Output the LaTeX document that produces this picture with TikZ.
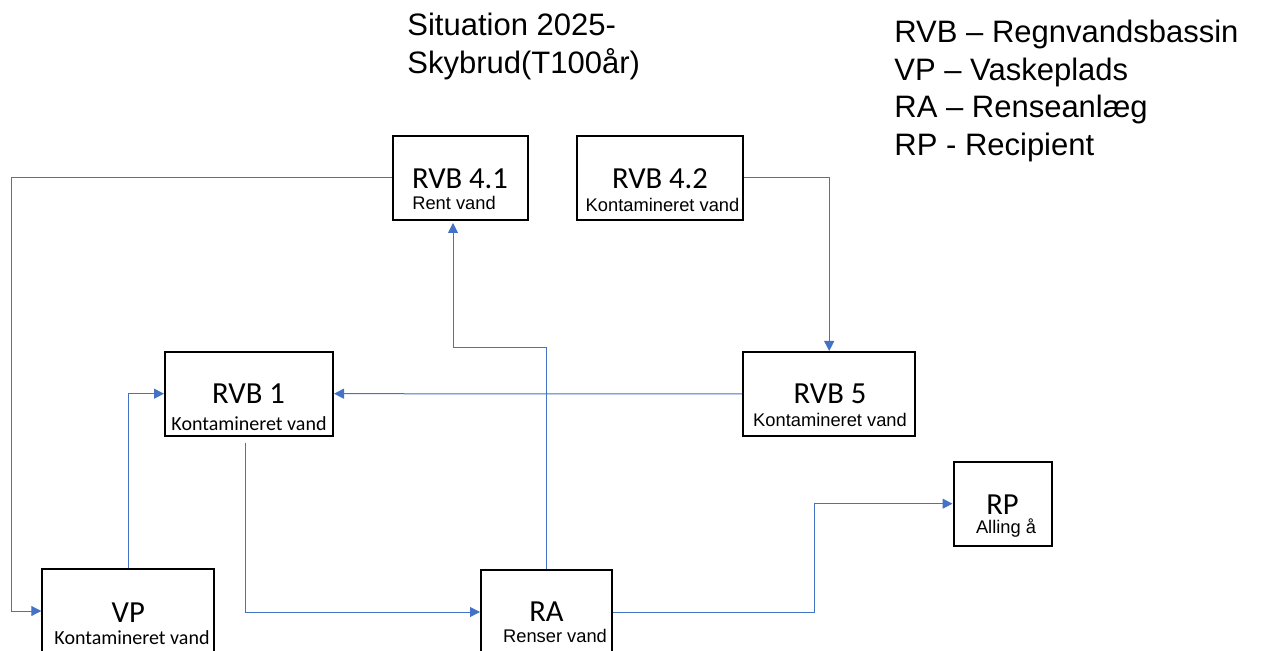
\documentclass[tikz,border=0pt]{standalone}
\usepackage{fontspec}
\setmainfont{Liberation Sans}
\newfontfamily\calibri{Carlito}
\usetikzlibrary{arrows.meta}
\definecolor{flowblue}{RGB}{68,114,196}
\begin{document}
\begin{tikzpicture}[
        % pixel grid, y pointing down
        x={(0.5pt,0pt)},
        y={(0pt,-0.5pt)},
        box/.style={draw=black, line width=1pt, inner sep=0pt},
        title/.style={font=\calibri\fontsize{15.3}{18}\selectfont, anchor=base, inner sep=0pt},
        sub/.style={font=\fontsize{9.15}{11}\selectfont, anchor=base, inner sep=0pt},
        subCal/.style={font=\calibri\fontsize{10}{12}\selectfont, anchor=base, inner sep=0pt},
        head/.style={font=\fontsize{15.5}{18}\selectfont, anchor=base west, inner sep=0pt},
        flow/.style={-{Triangle[length=5pt, width=5pt]}, line width=0.5pt, flowblue}
    ]

        % --- Parameters ---
        \def\boxH{42pt}     % box height
        \def\lineGap{37.5}  % legend line spacing

        \useasboundingbox (0,0) rectangle (1262,651);

        % --- 1. Header and legend ---
        \node[head] (head1) at (407,36) {Situation 2025-};
        \node[head] (head2) at (407,74) {Skybrud(T100år)};

        \foreach \lbl [count=\i] in {RVB – Regnvandsbassin, VP – Vaskeplads, RA – Renseanlæg, RP - Recipient} {
            \node[head] (leg\i) at (894, {42.7+\lineGap*(\i-1)}) {\lbl};
        }

        % --- 2. Boxes ---
        \node[box, minimum width=67.5pt, minimum height=\boxH] (rvb41) at (460.5,178) {};
        \node[box, minimum width=83pt, minimum height=\boxH] (rvb42) at (660,178) {};
        \node[box, minimum width=84pt, minimum height=\boxH] (rvb1) at (249,393.7) {};
        \node[box, minimum width=86pt, minimum height=\boxH] (rvb5) at (829.2,394) {};
        \node[box, minimum width=49pt, minimum height=\boxH] (rp) at (1002.5,503.7) {};
        \node[box, minimum width=86pt, minimum height=\boxH] (vp) at (128.3,611) {};
        \node[box, minimum width=65.5pt, minimum height=\boxH] (ra) at (546.5,612) {};

        % --- 3. Box texts ---
        \node[title] (rvb41T) at (460,188.3) {RVB 4.1};
        \node[sub] (rvb41S) at (454,210) {Rent vand};
        \node[title] (rvb42T) at (660,188.3) {RVB 4.2};
        \node[sub] (rvb42S) at (662.5,211.5) {Kontamineret vand};
        \node[title] (rvb1T) at (248.5,404) {RVB 1};
        \node[subCal] (rvb1S) at (249,430.7) {Kontamineret vand};
        \node[title] (rvb5T) at (830,404) {RVB 5};
        \node[sub] (rvb5S) at (830,427) {Kontamineret vand};
        \node[title] (rpT) at (1002.5,514) {RP};
        \node[sub] (rpS) at (1006,533.3) {Alling å};
        \node[title] (vpT) at (128.3,622.7) {VP};
        \node[subCal] (vpS) at (132,644) {Kontamineret vand};
        \node[title] (raT) at (546.5,621.7) {RA};
        \node[sub] (raS) at (555,642.7) {Renser vand};

        % --- 4. Flows ---
        \coordinate (leftBend) at (11.7,611);
        \coordinate (raBend) at (453,348);
        \coordinate (rpBend) at (814,503.7);

        \draw[flow] (rvb41.west) -| (leftBend) -- (vp.west);
        \draw[flow] (rvb42.east) -| (rvb5.north);
        \draw[flow] (rvb5.west) -- (rvb1.east);
        \draw[flow] (vp.north) |- (rvb1.west);
        \draw[flow] ([xshift=-2pt, yshift=-3pt]rvb1.south) |- (ra.west);
        \draw[flow] (ra.north) |- (raBend) -- ([xshift=-3.75pt, yshift=-1pt]rvb41.south);
        \draw[flow] (ra.east) -| (rpBend) -- (rp.west);

    \end{tikzpicture}
\end{document}
